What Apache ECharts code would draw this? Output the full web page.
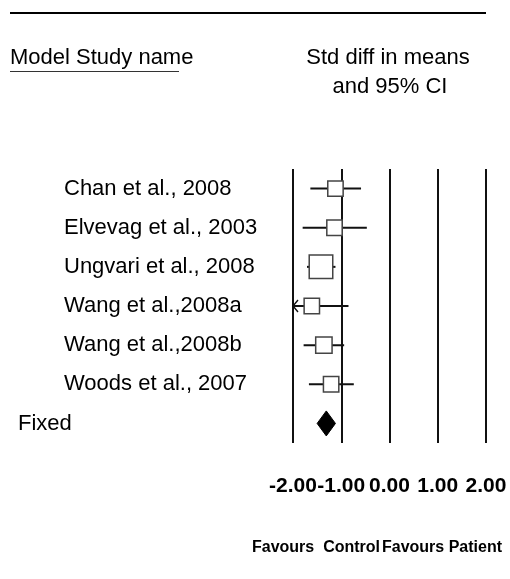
<!DOCTYPE html>
<html>
<head>
<meta charset="utf-8">
<script src="https://cdn.jsdelivr.net/npm/echarts@6/dist/echarts.min.js"></script>
<style>
html,body{margin:0;padding:0;background:#fff;}
#chart{width:510px;height:579px;}
</style>
</head>
<body>
<div id="chart"></div>
<script>
// ---- data ----
const studies = ['Chan et al., 2008', 'Elvevag et al., 2003', 'Ungvari et al., 2008', 'Wang et al.,2008a', 'Wang et al.,2008b', 'Woods et al., 2007'];
const smd     = [-1.12, -1.14, -1.42, -1.61, -1.36, -1.21];
const lowerCI = [-1.64, -1.80, -1.71, -2.30, -1.78, -1.67];
const upperCI = [-0.59, -0.47, -1.12, -0.85, -0.94, -0.74];
const weights = [13.4, 13.4, 31.4, 13.4, 15.2, 13.4];   // relative weight (%)
const pooledLabel = 'Fixed';
const pooledEst = -1.31, pooledLower = -1.50, pooledUpper = -1.12;
const xTicks = [-2, -1, 0, 1, 2];
const favoursLeft = 'Favours  Control';
const favoursRight = 'Favours Patient';

const FONT = '"Liberation Sans", Arial, Helvetica, sans-serif';
const categories = studies.concat([pooledLabel]);
const XMIN = xTicks[0], XMAX = xTicks[xTicks.length - 1];

const studyData = studies.map((s, i) => [smd[i], i, lowerCI[i], upperCI[i], weights[i]]);
const pooledData = [[pooledEst, studies.length, pooledLower, pooledUpper]];

const chart = echarts.init(document.getElementById('chart'), null, {renderer: 'canvas'});
chart.setOption({
  animation: false,
  backgroundColor: '#fff',
  grid: {left: 293, top: 169, width: 193, height: 274, containLabel: false},
  xAxis: {
    type: 'value', min: XMIN, max: XMAX, interval: 1,
    axisLine: {show: false}, axisTick: {show: false},
    splitLine: {show: true, lineStyle: {color: '#111', width: 2}},
    axisLabel: {
      margin: 33, color: '#000', fontSize: 21, fontWeight: 'bold', fontFamily: FONT,
      formatter: v => v.toFixed(2)
    }
  },
  yAxis: {
    type: 'category', data: categories, inverse: true, boundaryGap: true,
    axisLine: {show: false}, axisTick: {show: false}, splitLine: {show: false},
    axisLabel: {
      align: 'left', margin: 229, color: '#000', fontSize: 22, fontFamily: FONT,
      formatter: v => v === pooledLabel ? '' : v
    }
  },
  series: [
    {
      type: 'custom',
      data: studyData,
      encode: {x: 0, y: 1},
      z: 5,
      renderItem: function (params, api) {
        const est = api.value(0), row = api.value(1), lo = api.value(2), hi = api.value(3), w = api.value(4);
        const truncated = lo < XMIN;
        const pLo = api.coord([Math.max(lo, XMIN), row]);
        const pHi = api.coord([Math.min(hi, XMAX), row]);
        const pE = api.coord([est, row]);
        const side = Math.sqrt(w) * 4.2;
        const children = [
          {type: 'line', shape: {x1: pLo[0], y1: pLo[1], x2: pHi[0], y2: pHi[1]},
           style: {stroke: '#111', lineWidth: 2}},
          {type: 'rect', shape: {x: pE[0] - side / 2, y: pE[1] - side / 2, width: side, height: side},
           style: {fill: '#fff', stroke: '#444', lineWidth: 1.5}}
        ];
        if (truncated) {
          children.push({type: 'polyline', shape: {points: [[pLo[0] + 5, pLo[1] - 6], [pLo[0], pLo[1]], [pLo[0] + 5, pLo[1] + 6]]},
            style: {stroke: '#111', lineWidth: 1.4, fill: null}});
        }
        return {type: 'group', children: children};
      }
    },
    {
      type: 'custom',
      data: pooledData,
      encode: {x: 0, y: 1},
      z: 5,
      renderItem: function (params, api) {
        const est = api.value(0), row = api.value(1);
        const c = api.coord([est, row]);
        const l = api.coord([api.value(2), row]);
        const r = api.coord([api.value(3), row]);
        const h = 12.5;
        return {type: 'polygon', shape: {points: [[l[0], c[1]], [c[0], c[1] - h], [r[0], c[1]], [c[0], c[1] + h]]},
          style: {fill: '#000', stroke: '#000', lineWidth: 1}};
      }
    }
  ],
  graphic: [
    {type: 'line', shape: {x1: 10, y1: 13, x2: 486, y2: 13}, style: {stroke: '#000', lineWidth: 2}},
    {type: 'text', left: 10, top: 47, style: {text: 'Model Study name', font: '22px ' + FONT, fill: '#000'}},
    {type: 'line', shape: {x1: 10, y1: 71.5, x2: 179, y2: 71.5}, style: {stroke: '#333', lineWidth: 1.2}},
    {type: 'text', x: 388, y: 58, style: {text: 'Std diff in means', font: '22px ' + FONT, fill: '#000', textAlign: 'center', textVerticalAlign: 'middle'}},
    {type: 'text', x: 390, y: 87, style: {text: 'and 95% CI', font: '22px ' + FONT, fill: '#000', textAlign: 'center', textVerticalAlign: 'middle'}},
    {type: 'text', x: 18, y: 424, style: {text: pooledLabel, font: '22px ' + FONT, fill: '#000', textAlign: 'left', textVerticalAlign: 'middle'}},
    {type: 'text', x: 252, y: 548, style: {text: favoursLeft, font: 'bold 16px ' + FONT, fill: '#000', textAlign: 'left', textVerticalAlign: 'middle'}},
    {type: 'text', x: 502, y: 548, style: {text: favoursRight, font: 'bold 16px ' + FONT, fill: '#000', textAlign: 'right', textVerticalAlign: 'middle'}}
  ]
});
</script>
</body>
</html>
